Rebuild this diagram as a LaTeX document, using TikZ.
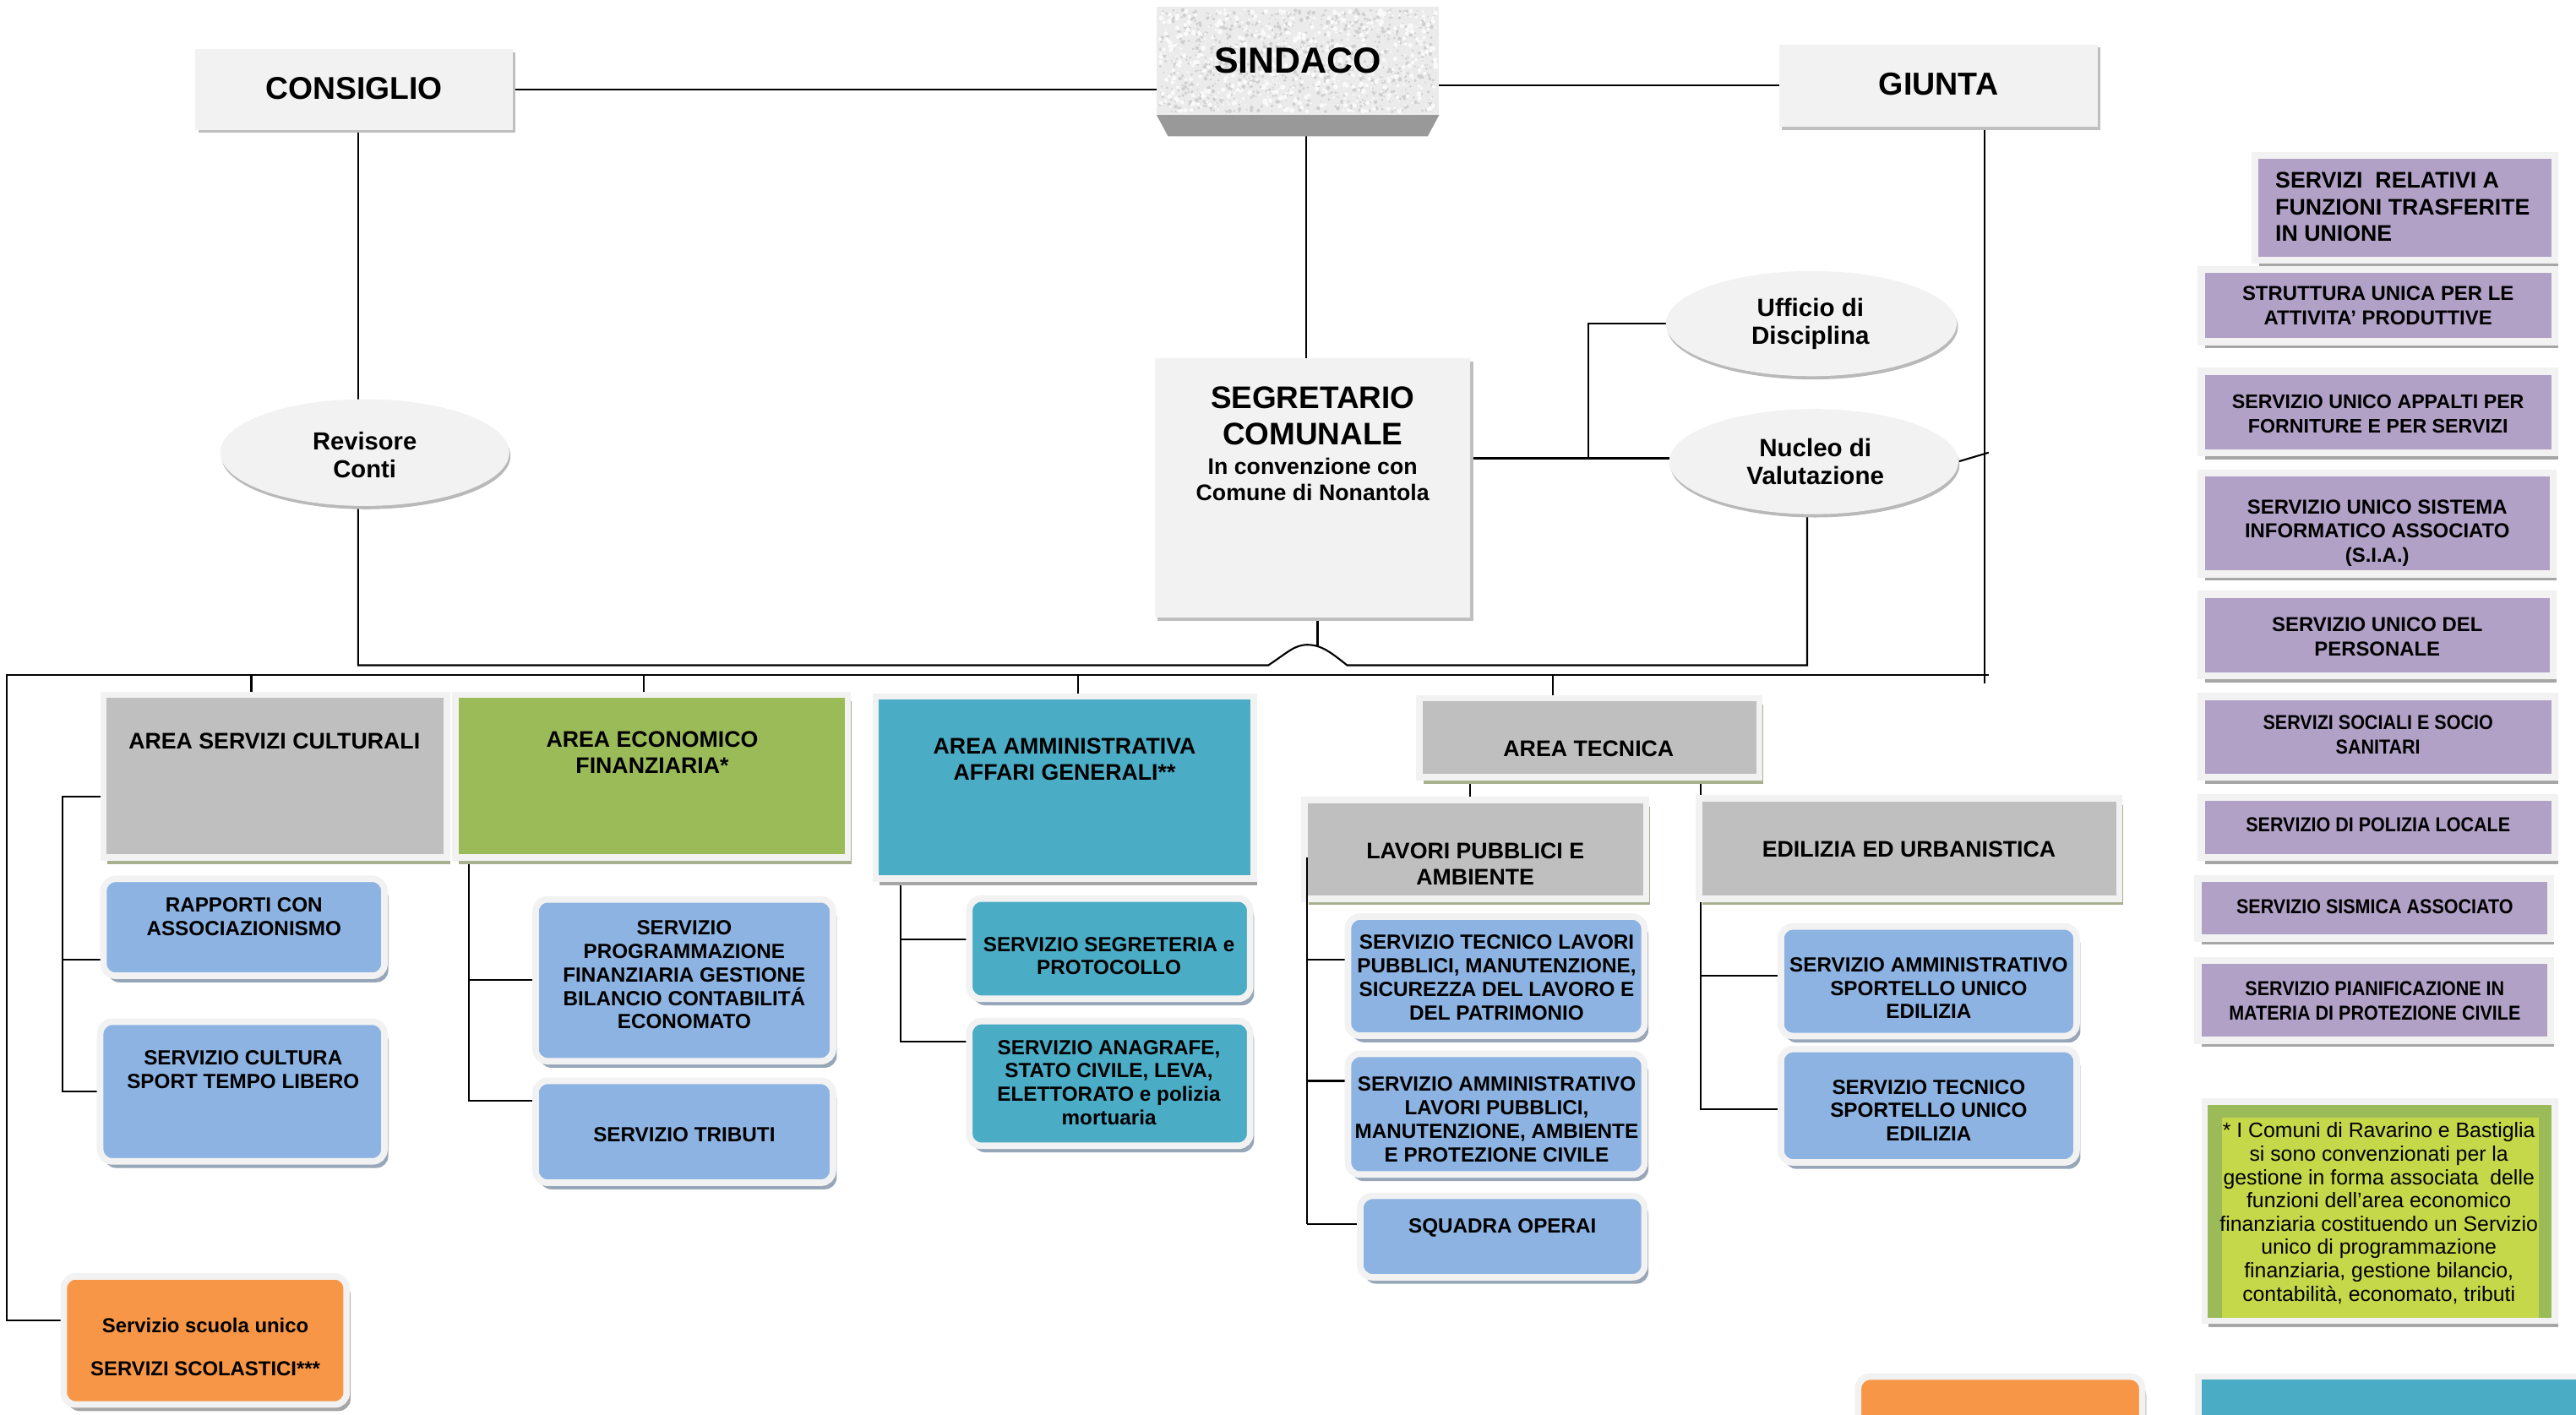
\documentclass[tikz,border=0pt]{standalone}
\usepackage{fontspec}
\setmainfont{Liberation Sans}
\usepackage{graphicx}
\usetikzlibrary{shapes.geometric,shadows}
\pgfdeclarelayer{bg}
\pgfsetlayers{bg,main}
\definecolor{lgray}{HTML}{F2F2F2}
\definecolor{agray}{HTML}{BFBFBF}
\definecolor{agreen}{HTML}{9BBB59}
\definecolor{ateal}{HTML}{4BACC6}
\definecolor{ablue}{HTML}{8DB3E2}
\definecolor{apurple}{HTML}{B2A1C7}
\definecolor{aorange}{HTML}{F79646}
\definecolor{lime}{HTML}{C4D84A}
\definecolor{shol}{HTML}{A7B08F}
\definecolor{shbl}{HTML}{97A6B8}
\definecolor{shgr}{HTML}{A6A6A6}
\definecolor{bevel}{HTML}{999999}
\newcommand{\setfs}[2]{\fontsize{#1}{#2}\selectfont}
\newcommand{\tightc}[1]{\scalebox{0.9}[1]{\begin{tabular}{@{}c@{}}#1\end{tabular}}}
\tikzset{
  bb/.style args={#1/#2/#3/#4}{minimum width={(#3-#1)*0.019446cm}, minimum height={(#4-#2)*0.019446cm}, at={({(#1+#3)/2},{(#2+#4)/2})}, inner sep=0pt, outer sep=0pt},
  conn/.style={line width=0.6pt, draw=black},
  topbox/.style={rectangle, fill=lgray, drop shadow={shadow xshift=0.9pt, shadow yshift=-1.1pt, fill=agray, opacity=1}},
  oval/.style={ellipse, fill=lgray, drop shadow={shadow xshift=0.4pt, shadow yshift=-1.1pt, fill=gray!55, opacity=1}},
  sqbox/.style={rectangle, draw=lgray, line width=2.2pt, drop shadow={shadow xshift=1.3pt, shadow yshift=-2.2pt, fill=#1, opacity=1}},
  sqbox/.default=shol,
  rbox/.style={rectangle, rounded corners=4pt, draw=lgray, line width=2.2pt, drop shadow={shadow xshift=1.3pt, shadow yshift=-2.2pt, fill=#1, opacity=1}},
  rbox/.default=shbl,
  pbox/.style={rectangle, draw=lgray, line width=2.4pt, fill=apurple, drop shadow={shadow xshift=1.3pt, shadow yshift=-2.2pt, fill=shgr, opacity=1}},
  txt/.style={inner sep=0pt, outer sep=0pt, align=center},
  tA/.style={txt, font=\setfs{7.6}{8.85}\bfseries},
  tC/.style={txt, font=\setfs{6.9}{7.9}\bfseries},
  tP/.style={txt, font=\setfs{6.8}{8.2}\bfseries},
}
\begin{document}
\begin{tikzpicture}[x=0.019446cm,y=-0.019446cm]
\useasboundingbox (0,0) rectangle (1568,861);
\clip (0,0) rectangle (1568,861);

% ---------- top level ----------
\node[topbox, bb=119/30/312/79] (cons) {};
\node[rectangle, fill=gray!16, bb=704/4/876/70] (sind) {};
\node[topbox, bb=1083/27/1277/77] (giun) {};
\node[topbox, bb=703/218/895/376] (seg) {};
\node[oval, bb=134/243/310/308] (rev) {};
\node[oval, bb=1014/165/1191/229] (uff) {};
\node[oval, bb=1016/249/1192/313] (nuc) {};

% sindaco texture and bevel
\fill[bevel] (704,70) -- (876,70) -- (869,83) -- (711,83) -- cycle;
\pgfmathsetseed{42}
\foreach \k in {1,...,900} {\fill[gray!38] ({706+168*rnd},{6+62*rnd}) circle ({0.4+0.8*rnd});}
\foreach \k in {1,...,700} {\fill[gray!4] ({706+168*rnd},{6+62*rnd}) circle ({0.5+1.0*rnd});}

% ---------- areas ----------
\node[sqbox, fill=agray, bb=63/423/272/522] (cult) {};
\node[sqbox, fill=agreen, bb=277/423/516/522] (eco) {};
\node[sqbox=shgr, fill=ateal, bb=533/424/763/535] (amm) {};
\node[sqbox, fill=agray, bb=864/425/1071/473] (tec) {};
\node[sqbox, fill=agray, bb=794/487/1002/547] (lav) {};
\node[sqbox, fill=agray, bb=1034/486/1290/547] (edi) {};

% ---------- services ----------
\node[rbox, fill=ablue, bb=63/535/234/594] (ra) {};
\node[rbox, fill=ablue, bb=61/622/234/707] (cs) {};
\node[rbox, fill=ablue, bb=326/547.5/507/646] (prog) {};
\node[rbox, fill=ablue, bb=326/658/507/720] (trib) {};
\node[rbox, fill=ateal, bb=590/547/761/608] (segr) {};
\node[rbox, fill=ateal, bb=590/621.6/761/697.5] (anag) {};
\node[rbox, fill=ablue, bb=820.5/558/1001/630.5] (stl) {};
\node[rbox, fill=ablue, bb=820.5/641.5/1001/715] (sal) {};
\node[rbox, fill=ablue, bb=828/728/1001/777.5] (sq) {};
\node[rbox, fill=ablue, bb=1084/564/1264/630.7] (sas) {};
\node[rbox, fill=ablue, bb=1084/638.6/1264/707.6] (sts) {};
\node[rbox=shgr, fill=aorange, bb=38.8/777/211/855] (scu) {};

% ---------- unione column ----------
\node[pbox, bb=1372.6/94.5/1555/158.5] (p0) {};
\node[pbox, bb=1340/164/1555/208] (p1) {};
\node[pbox, bb=1340/226/1555/275.7] (p2) {};
\node[pbox, bb=1340/288/1554/349.5] (p3) {};
\node[pbox, bb=1340/361.7/1554/411.5] (p4) {};
\node[pbox, bb=1340/424/1555/473] (p5) {};
\node[pbox, bb=1340/485.6/1555/522] (p6) {};
\node[pbox, bb=1337.8/534.7/1552.5/571] (p7) {};
\node[pbox, bb=1337.8/584.8/1552.5/633.4] (p8) {};
\node[sqbox=shgr, fill=agreen, bb=1342/670.5/1555/804] (note) {};
\node[rectangle, fill=lime, bb=1352.5/680.6/1545.5/802] (notein) {};
\node[rbox=shgr, fill=aorange, bb=1131/838/1304/900] (orb) {};
\node[sqbox=shgr, fill=ateal, bb=1338/838/1580/900] (tlb) {};

% ---------- connectors (behind boxes) ----------
\begin{pgfonlayer}{bg}
\draw[conn] (cons.east) -- (cons.east -| sind.west);
\draw[conn] (giun.west -| sind.east) -- (giun.west);
\coordinate (sindb) at (795,83);
\draw[conn] (sindb) -- (sindb |- seg.north);
\coordinate (cv) at (218,0);
\draw[conn] (cv |- cons.south) -- (cv |- rev.north);
\coordinate (hl) at (772,405);
\coordinate (hp) at (796,392.5);
\coordinate (hr) at (820,405);
\coordinate (nb) at (1100,405);
\draw[conn] (cv |- rev.south) |- (hl) .. controls (784,397) and (788,392.5) .. (hp) .. controls (804,392.5) and (810,397) .. (hr) -- (nb) -- (nb |- nuc.south);
\coordinate (sd) at (802,393.6);
\draw[conn] (sd |- seg.south) -- (sd);
\coordinate (sj) at (967,279);
\draw[conn] (sj -| seg.east) -- (sj -| nuc.west);
\draw[conn] (sj) |- (uff.west);
\coordinate (gv) at (1208,416);
\draw[conn] (gv |- giun.south) -- (gv);
\coordinate (gs) at (1210.5,275.5);
\draw[conn] (nuc.east) -- (gs);
\coordinate (busR) at (1210.5,411);
\coordinate (busL) at (4,411);
\coordinate (sc) at (4,804);
\draw[conn] (busR) -- (busL) -- (sc) -- (sc -| scu.west);
\coordinate (d1) at (153,411);
\coordinate (d2) at (392,411);
\coordinate (d3) at (656,411);
\coordinate (d4) at (945,411);
\draw[conn] (d1) -- (d1 |- cult.north);
\draw[conn] (d2) -- (d2 |- eco.north);
\draw[conn] (d3) -- (d3 |- amm.north);
\draw[conn] (d4) -- (d4 |- tec.north);
\coordinate (c1) at (38,485);
\coordinate (c2) at (38,584);
\draw[conn] (c1 -| cult.west) -- (c1) |- (cs.west);
\draw[conn] (c2) -- (c2 -| ra.west);
\coordinate (e1) at (285.5,670);
\draw[conn] (e1 |- eco.south) -- (e1) -- (e1 -| trib.west);
\draw[conn] (e1 |- prog.west) -- (prog.west);
\coordinate (a1) at (548,634);
\coordinate (a2) at (548,572);
\draw[conn] (a1 |- amm.south) -- (a1) -- (a1 -| anag.west);
\draw[conn] (a2) -- (a2 -| segr.west);
\coordinate (t1) at (895,0);
\draw[conn] (t1 |- tec.south) -- (t1 |- lav.north);
\coordinate (t2) at (1035,675);
\coordinate (t3) at (1035,594);
\draw[conn] (t2 |- tec.south) -- (t2) -- (t2 -| sts.west);
\draw[conn] (t3) -- (t3 -| sas.west);
\coordinate (l2) at (795.5,584);
\coordinate (l3) at (795.5,658);
\coordinate (l4) at (795.5,745);
\draw[conn] (l2) -- (l2 -| stl.west);
\draw[conn] (l3) -- (l3 -| sal.west);
\draw[conn] (l4) -- (l4 -| sq.west);
\end{pgfonlayer}
\coordinate (l1) at (795.5,522);
\draw[conn] (l1) -- (l4);

% ---------- texts ----------
\node[txt, font=\setfs{10.6}{12}\bfseries] (tcons) at (215.5,54) {CONSIGLIO};
\node[txt, font=\setfs{12.2}{14}\bfseries] (tsind) at (790,37) {SINDACO};
\node[txt, font=\setfs{10.7}{12}\bfseries] (tgiun) at (1180,51) {GIUNTA};
\node[txt, font=\setfs{10.5}{12.2}\bfseries] (tseg1) at (799,253) {SEGRETARIO\\COMUNALE};
\node[txt, font=\setfs{7.6}{8.85}\bfseries] (tseg2) at (799,292) {In convenzione con\\Comune di Nonantola};
\node[txt, font=\setfs{8.3}{9.4}\bfseries] (trev) at (222,277) {Revisore\\Conti};
\node[txt, font=\setfs{8.4}{9.4}\bfseries] (tuff) at (1102,197) {Ufficio di\\Disciplina};
\node[txt, font=\setfs{8.4}{9.4}\bfseries] (tnuc) at (1105,281) {Nucleo di\\Valutazione};

\node[tA] (tcult) at (167,451) {AREA SERVIZI CULTURALI};
\node[tA] (teco) at (397,458) {AREA ECONOMICO\\FINANZIARIA*};
\node[tA] (tamm) at (648,462) {AREA AMMINISTRATIVA\\AFFARI GENERALI**};
\node[tA] (ttec) at (967,456) {AREA TECNICA};
\node[tA] (tlav) at (898,526) {LAVORI PUBBLICI E\\AMBIENTE};
\node[tA] (tedi) at (1162,517) {EDILIZIA ED URBANISTICA};

\node[tC] (tra) at (148.5,558) {RAPPORTI CON\\ASSOCIAZIONISMO};
\node[tC] (tcs) at (148,651) {SERVIZIO CULTURA\\SPORT TEMPO LIBERO};
\node[tC] (tprog) at (416.5,593.5) {SERVIZIO\\PROGRAMMAZIONE\\FINANZIARIA GESTIONE\\BILANCIO CONTABILIT\'A\\ECONOMATO};
\node[tC] (ttrib) at (416.5,690.5) {SERVIZIO TRIBUTI};
\node[tC] (tsegr) at (675,582) {SERVIZIO SEGRETERIA e\\PROTOCOLLO};
\node[tC] (tanag) at (675,659) {SERVIZIO ANAGRAFE,\\STATO CIVILE, LEVA,\\ELETTORATO e polizia\\mortuaria};
\node[tC] (tstl) at (911,595) {SERVIZIO TECNICO LAVORI\\PUBBLICI, MANUTENZIONE,\\SICUREZZA DEL LAVORO E\\DEL PATRIMONIO};
\node[tC] (tsal) at (911,681.5) {SERVIZIO AMMINISTRATIVO\\LAVORI PUBBLICI,\\MANUTENZIONE, AMBIENTE\\E PROTEZIONE CIVILE};
\node[tC] (tsq) at (914.5,747.5) {SQUADRA OPERAI};
\node[tC] (tsas) at (1174,601.5) {SERVIZIO AMMINISTRATIVO\\SPORTELLO UNICO\\EDILIZIA};
\node[tC] (tsts) at (1174,676) {SERVIZIO TECNICO\\SPORTELLO UNICO\\EDILIZIA};
\node[txt, font=\setfs{6.8}{14.7}\bfseries] (tscu) at (125,820) {Servizio scuola unico\\SERVIZI SCOLASTICI***};

\node[txt, align=left, anchor=west, font=\setfs{7.6}{9}\bfseries] (tp0) at (1385,126) {SERVIZI\ \ RELATIVI A\\FUNZIONI TRASFERITE\\IN UNIONE};
\node[tP] (tp1) at (1447.5,186) {STRUTTURA UNICA PER LE\\ATTIVITA’ PRODUTTIVE};
\node[tP, font=\setfs{6.6}{8.2}\bfseries] (tp2) at (1447.5,252) {SERVIZIO UNICO APPALTI PER\\FORNITURE E PER SERVIZI};
\node[tP] (tp3) at (1447,324.5) {SERVIZIO UNICO SISTEMA\\INFORMATICO ASSOCIATO\\(S.I.A.)};
\node[tP] (tp4) at (1447,387.5) {SERVIZIO UNICO DEL\\PERSONALE};
\node[tP] (tp5) at (1447.5,448.5) {\tightc{SERVIZI SOCIALI E SOCIO\\SANITARI}};
\node[tP] (tp6) at (1447.5,503.5) {\tightc{SERVIZIO DI POLIZIA LOCALE}};
\node[tP] (tp7) at (1445.5,553) {\tightc{SERVIZIO SISMICA ASSOCIATO}};
\node[tP] (tp8) at (1445.5,610.5) {\tightc{SERVIZIO PIANIFICAZIONE IN\\MATERIA DI PROTEZIONE CIVILE}};
\node[txt, font=\setfs{7.06}{7.86}] (tnote) at (1448,738.5) {* I Comuni di Ravarino e Bastiglia\\si sono convenzionati per la\\gestione in forma associata\ \ delle\\funzioni dell’area economico\\finanziaria costituendo un Servizio\\unico di programmazione\\finanziaria, gestione bilancio,\\contabilità, economato, tributi};
\end{tikzpicture}
\end{document}
